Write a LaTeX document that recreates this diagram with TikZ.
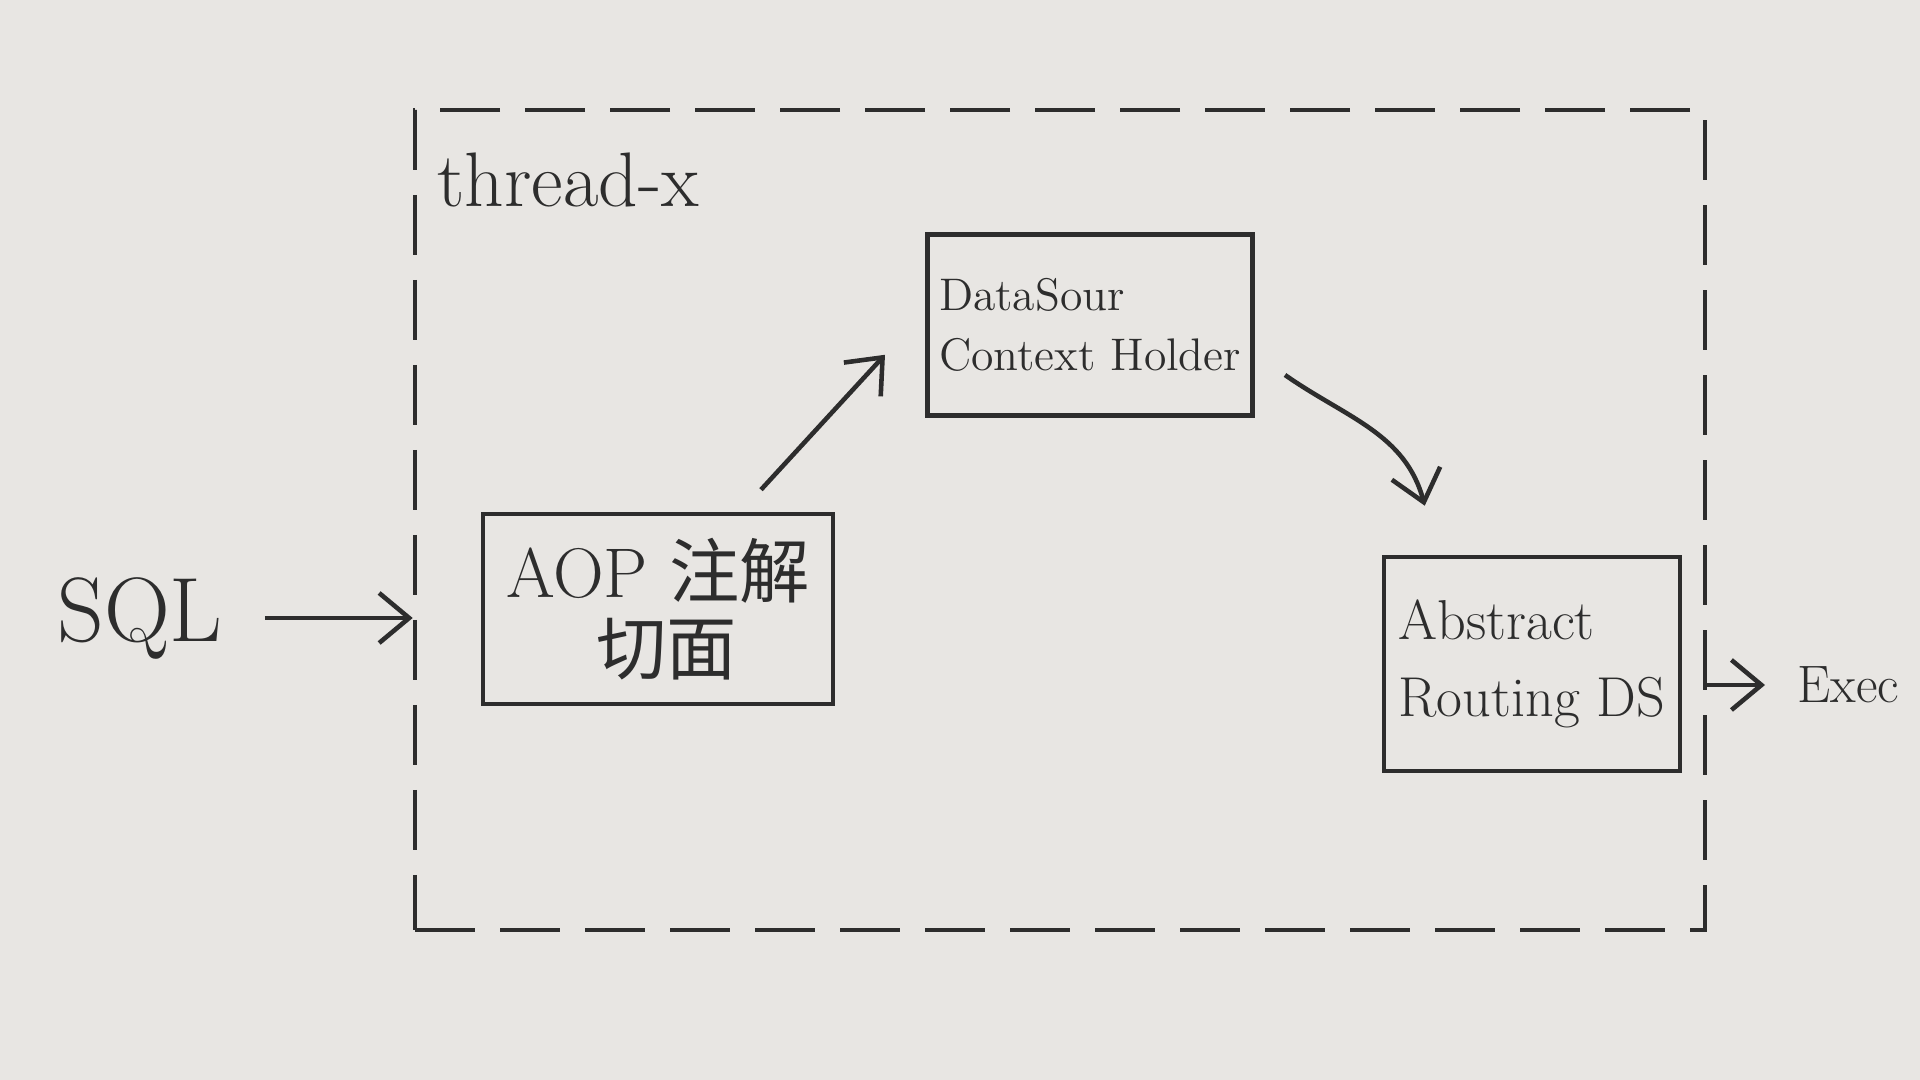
\documentclass[tikz,border=0pt]{standalone}
\usepackage{fontspec}
\newfontfamily\cjk{Noto Sans CJK SC}
\usetikzlibrary{
  positioning,
  arrows.meta,
  calc}
\definecolor{paper}{RGB}{232,230,227}
\definecolor{pen}{RGB}{45,45,45}

\tikzset{
  box/.style={
    draw=pen,
    line width=1.3pt,
    rectangle,
    align=left,
    text=pen
  },
  arrow/.style={
    draw=pen,
    line width=1.3pt,
    -{Straight Barb[length=3mm,width=5mm]}
  }
}

\begin{document}
\begin{tikzpicture}%
  \useasboundingbox[fill=paper] (0,0) rectangle (19.2,10.8);

  % Thread
  \node[
    draw=pen,
    line width=1.3pt,
    dash pattern=on 6mm off 2.5mm,
    minimum width=12.9cm,
    minimum height=8.2cm
  ] (thread) at (10.6,5.6) {};

  \node[
    text=pen,
    font=\fontsize{22}{24}\selectfont,
    anchor=west
  ] (name) at (4.25,9.0) {thread-x};

  % Boxes
  \node[
    box,
    minimum width=3.5cm,
    minimum height=1.9cm,
    font=\fontsize{20}{24}\selectfont
  ] (aop) at (6.58,4.71) {AOP {\cjk 注解}\\[-2pt]\hspace{0.9cm}{\cjk 切面}};

  \node[
    box,
    minimum width=2.82cm,
    minimum height=1.81cm,
    font=\fontsize{13}{17}\selectfont
  ] (holder) at (10.9,7.55) {DataSour\\Context Holder};

  \node[
    box,
    minimum width=2.96cm,
    minimum height=2.14cm,
    font=\fontsize{16}{22}\selectfont
  ] (routing) at (15.32,4.16) {Abstract\\Routing DS};

  % Input and output
  \node[
    text=pen,
    font=\fontsize{26}{28}\selectfont
  ] (sql) at (1.4,4.62) {SQL};

  \node[
    text=pen,
    font=\fontsize{15}{18}\selectfont,
    anchor=west
  ] (exec) at (17.85,3.95) {Exec};

  % Connectors
  \draw[arrow]
    ([xshift=0.3cm]sql.east) -- (sql -| thread.west);

  \draw[arrow]
    ([xshift=1.03cm,yshift=0.22cm]aop.north)
    -- ([xshift=-0.4cm,yshift=0.63cm]holder.south west);

  \draw[arrow]
    ([xshift=0.3cm,yshift=-0.5cm]holder.east)
    to[out=-35,in=105]
    ([xshift=0.43cm,yshift=0.49cm]routing.north west);

  \draw[arrow]
    (exec -| thread.east) -- ([xshift=-0.2cm]exec.west);

\end{tikzpicture}
\end{document}
